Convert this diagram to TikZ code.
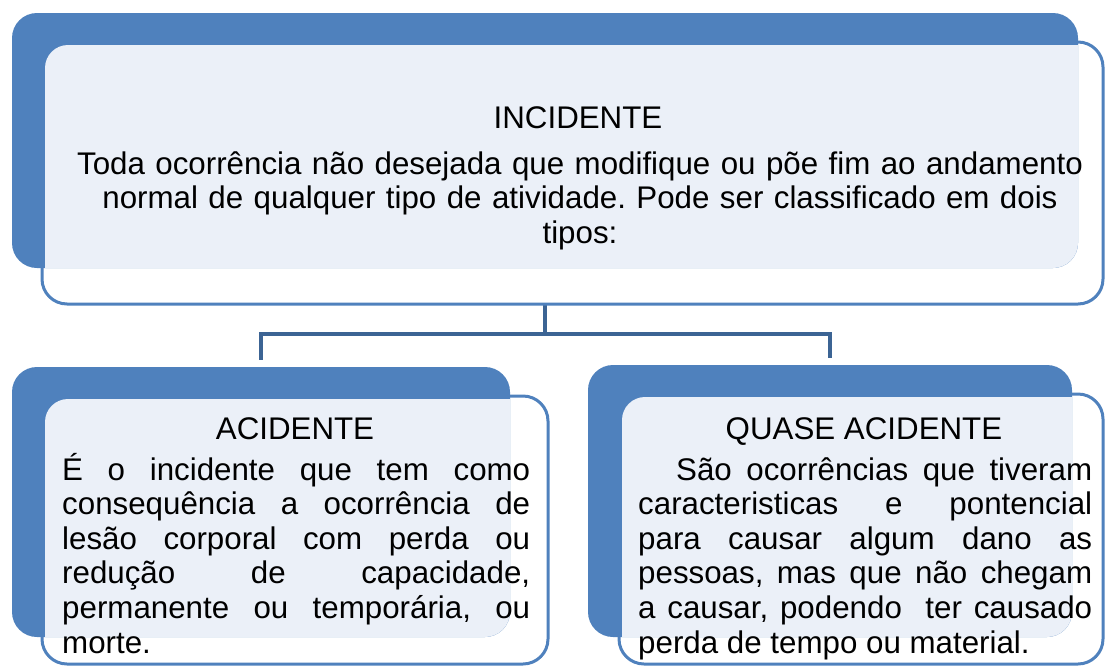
\documentclass[tikz,border=0pt]{standalone}
\usepackage{fontspec}
\setmainfont{Liberation Sans}
\usetikzlibrary{calc}
\definecolor{boxblue}{HTML}{4F81BD}
\definecolor{boxfill}{HTML}{EBF0F8}
\definecolor{linkblue}{HTML}{3C6494}
\pgfdeclarelayer{bg}
\pgfsetlayers{bg,main}
\newcommand{\jline}[1]{\makebox[\linewidth][s]{#1}\\}
\frenchspacing

\begin{document}
\begin{tikzpicture}
  [x=1pt,y=-1pt,font=\fontsize{31.3}{34.6}\selectfont,
   backbox/.style={rectangle, fill=boxblue, rounded corners=25pt, inner sep=0pt, outer sep=0pt},
   frontbox/.style={rectangle, draw=boxblue, line width=3pt, fill=white, rounded corners=25pt, inner sep=0pt, outer sep=0pt},
   link/.style={draw=linkblue, line width=4pt},
   title/.style={inner sep=0pt, anchor=base},
   body/.style={inner sep=0pt, anchor=base west, align=justify}]
  \useasboundingbox (0,0) rectangle (1105,667);

  \node[backbox, minimum width=1066pt, minimum height=255pt] (incback) at (545,140.5) {};
  \node[backbox, minimum width=498pt, minimum height=270pt] (acidback) at (261,502) {};
  \node[backbox, minimum width=484pt, minimum height=272pt] (quaseback) at (830,501) {};

  \begin{pgfonlayer}{bg}
    \coordinate (fork) at (545,334);
    \draw[link] (incback.south) -- (fork);
    \draw[link, shorten >=7pt] (fork) -| (acidback.north);
    \draw[link, shorten >=7pt] (fork) -| (quaseback.north);

    \node[frontbox, minimum width=1061pt, minimum height=262pt] (incfront) at (572.5,173) {};
    \node[frontbox, minimum width=506pt, minimum height=268pt] (acidfront) at (295,530) {};
    \node[frontbox, minimum width=484pt, minimum height=270pt] (quasefront) at (861,529) {};
  \end{pgfonlayer}

  \foreach \n in {inc,acid,quase} {
    \begin{scope}
      \clip[rounded corners=25pt] (\n back.north west) rectangle (\n back.south east);
      \fill[boxfill, rounded corners=23pt] ($(\n front.north west)+(3,3)$) rectangle ($(\n front.south east)+(-3,-3)$);
    \end{scope}
  }

  \node[title] (inctitle) at (578,128) {INCIDENTE};
  \node[inner sep=0pt, anchor=base, align=center, text width=1040pt] (inctext) at (580,174)
    {Toda ocorrência não desejada que modifique ou põe fim ao andamento\\
     normal de qualquer tipo de atividade. Pode ser classificado em dois\\
     tipos:};

  \node[title] (acidtitle) at (295,439) {ACIDENTE};
  \node[body, text width=468pt] (acidtext) at (62,480)
    {\jline{É o incidente que tem como}
     \jline{consequência a ocorrência de}
     \jline{lesão corporal com perda ou}
     \jline{redução de capacidade,}
     \jline{permanente ou temporária, ou}
     morte.};

  \node[title] (quasetitle) at (864,439) {QUASE ACIDENTE};
  \node[body, text width=454pt] (quasetext) at (638,480)
    {\jline{\hspace*{38pt}São ocorrências que tiveram}
     \jline{caracteristicas e pontencial}
     \jline{para causar algum dano as}
     \jline{pessoas, mas que não chegam}
     \jline{a causar, podendo\ \ ter causado}
     perda de tempo ou material.};
\end{tikzpicture}
\end{document}
